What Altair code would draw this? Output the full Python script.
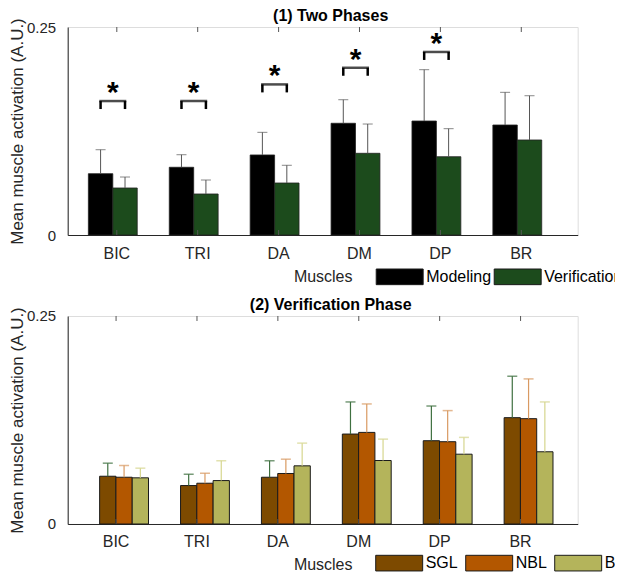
import altair as alt
import pandas as pd

# ---------------- data ----------------
muscles = ["BIC", "TRI", "DA", "DM", "DP", "BR"]

phases = ["Modeling", "Verification"]
modeling_mean = [0.0737, 0.0814, 0.0962, 0.1343, 0.1370, 0.1322]
modeling_sd = [0.0288, 0.0151, 0.0272, 0.0283, 0.0617, 0.0393]
verification_mean = [0.0565, 0.0493, 0.0625, 0.0982, 0.0941, 0.1142]
verification_sd = [0.0132, 0.0168, 0.0213, 0.0352, 0.0337, 0.0532]

sig_muscles = ["BIC", "TRI", "DA", "DM", "DP"]
bracket_level = [0.161, 0.161, 0.181, 0.201, 0.220]
bracket_leg = 0.0096

conditions = ["SGL", "NBL", "BL"]
sgl_mean = [0.0574, 0.0462, 0.0562, 0.1081, 0.1001, 0.1278]
sgl_sd = [0.0157, 0.0136, 0.0198, 0.0386, 0.0417, 0.0498]
nbl_mean = [0.0562, 0.0490, 0.0607, 0.1101, 0.0989, 0.1266]
nbl_sd = [0.0141, 0.0120, 0.0172, 0.0342, 0.0374, 0.0478]
bl_mean = [0.0555, 0.0522, 0.0699, 0.0763, 0.0839, 0.0868]
bl_sd = [0.0116, 0.0238, 0.0273, 0.0257, 0.0202, 0.0599]

# ---------------- styles ----------------
FONT = "Liberation Sans"
W, H = 510, 208
phase_colors = ["#000000", "#1c4b1c"]
cond_colors = ["#7d4a00", "#b35700", "#b4b45b"]
cond_err_colors = ["#3f7040", "#d99a62", "#d6d68e"]
TXT = "#262626"

# ---------------- tables ----------------
top_rows = []
for i, m in enumerate(muscles):
    top_rows.append(dict(muscle=m, series="Modeling", mean=modeling_mean[i],
                         upper=modeling_mean[i] + modeling_sd[i]))
    top_rows.append(dict(muscle=m, series="Verification", mean=verification_mean[i],
                         upper=verification_mean[i] + verification_sd[i]))
top_df = pd.DataFrame(top_rows)

br_rows = []
for m, b in zip(sig_muscles, bracket_level):
    for s in phases:
        br_rows.append(dict(muscle=m, series=s, level=b, low=b - bracket_leg, star="*"))
br_df = pd.DataFrame(br_rows)
br_center = br_df.drop_duplicates("muscle")

bot_rows = []
for means, sds, c in [(sgl_mean, sgl_sd, "SGL"), (nbl_mean, nbl_sd, "NBL"), (bl_mean, bl_sd, "BL")]:
    for i, m in enumerate(muscles):
        bot_rows.append(dict(muscle=m, series=c, mean=means[i], upper=means[i] + sds[i]))
bot_df = pd.DataFrame(bot_rows)

tick_df = pd.DataFrame({"muscle": muscles})


def x_enc(align, label_offset):
    return alt.X(
        "muscle:N", sort=muscles,
        scale=alt.Scale(domain=muscles, paddingInner=0.396, paddingOuter=0.35, align=align),
        axis=alt.Axis(title="Muscles", labelAngle=0, ticks=False, tickSize=0,
                      labelPadding=10, titlePadding=7, labelOffset=label_offset,
                      domainColor=TXT, labelColor=TXT, titleColor=TXT,
                      labelFontSize=16, titleFontSize=16, titleFontWeight="normal"),
    )


def y_enc(field="mean"):
    return alt.Y(
        f"{field}:Q",
        scale=alt.Scale(domain=[0, 0.25], nice=False, zero=True),
        axis=alt.Axis(title="Mean muscle activation (A.U.)", values=[0, 0.25], format="~g",
                      ticks=False, tickSize=0, labelPadding=12, titlePadding=0, grid=False,
                      domainColor=TXT, labelColor=TXT, titleColor=TXT,
                      labelFontSize=15, titleFontSize=17, titleFontWeight="normal"),
    )


def legend(lx, ly, colpad):
    return alt.Legend(title=None, orient="none", legendX=lx, legendY=ly, direction="horizontal",
                      symbolType="M-3,-1H3V1H-3Z", symbolSize=245,
                      symbolStrokeColor="#1a1a1a", symbolStrokeWidth=1, symbolOffset=15,
                      symbolOpacity=1, labelOffset=18, labelFontSize=16, labelColor="#000",
                      columnPadding=colpad, padding=0)


def inner_ticks(x, offset):
    t1 = alt.Chart(tick_df).mark_rule(color="#555555", strokeWidth=1, xOffset=offset).encode(
        x=x, y=alt.value(H), y2=alt.value(H - 5))
    t2 = alt.Chart(tick_df).mark_rule(color="#555555", strokeWidth=1, xOffset=offset).encode(
        x=x, y=alt.value(0), y2=alt.value(5))
    return [t1, t2]


def title(text):
    return alt.TitleParams(text, fontSize=16, fontWeight="bold", font=FONT,
                           anchor="middle", frame="group", offset=-6, dx=8, color="#000")


# ---------------- panel 1 ----------------
x1 = x_enc(0.365, 4)
xo1 = alt.XOffset("series:N", sort=phases, scale=alt.Scale(domain=phases))

bars1 = alt.Chart(top_df).mark_bar(stroke="#222222", strokeWidth=0.8).encode(
    x=x1, xOffset=xo1, y=y_enc(),
    color=alt.Color("series:N", sort=phases,
                    scale=alt.Scale(domain=phases, range=phase_colors),
                    legend=legend(308.5, 241, 1)),
)
err1 = alt.Chart(top_df).mark_rule(color="#555555", strokeWidth=1).encode(
    x=x1, xOffset=xo1, y="mean:Q", y2="upper:Q")
cap1 = alt.Chart(top_df).mark_tick(color="#555555", size=10, thickness=1).encode(
    x=x1, xOffset=xo1, y="upper:Q")
legs = alt.Chart(br_df).mark_rule(color="#000000", strokeWidth=2.5).encode(
    x=x1, xOffset=xo1, y="level:Q", y2="low:Q")
hbar = alt.Chart(br_center).mark_tick(color="#000000", size=27, thickness=2.5).encode(
    x=x1, y="level:Q")
stars = alt.Chart(br_center).mark_text(fontSize=30, fontWeight="bold", font=FONT, color="#000",
                                       baseline="alphabetic", dy=1).encode(
    x=x1, y="level:Q", text="star:N")

panel1 = alt.layer(bars1, err1, cap1, legs, hbar, stars, *inner_ticks(x1, 4)).properties(
    width=W, height=H, title=title("(1) Two Phases"))

# ---------------- panel 2 ----------------
x2 = x_enc(0.564, -8)
xo2 = alt.XOffset("series:N", sort=conditions, scale=alt.Scale(domain=conditions))

bars2 = alt.Chart(bot_df).mark_bar(stroke="#1a1a1a", strokeWidth=1).encode(
    x=x2, xOffset=xo2, y=y_enc(),
    color=alt.Color("series:N", sort=conditions,
                    scale=alt.Scale(domain=conditions, range=cond_colors),
                    legend=legend(308, 238.3, 5)),
)
layers2 = [bars2]
for c, col in zip(conditions, cond_err_colors):
    sub = alt.Chart(bot_df).transform_filter(alt.datum.series == c)
    layers2.append(sub.mark_rule(color=col, strokeWidth=1.2).encode(
        x=x2, xOffset=xo2, y="mean:Q", y2="upper:Q"))
    layers2.append(sub.mark_tick(color=col, size=10, thickness=1.5).encode(
        x=x2, xOffset=xo2, y="upper:Q"))

panel2 = alt.layer(*layers2, *inner_ticks(x2, -8)).properties(
    width=W, height=H, title=title("(2) Verification Phase"))

chart = alt.vconcat(panel1, panel2, spacing=81, bounds="flush").resolve_scale(
    color="independent", x="independent", xOffset="independent"
).properties(
    padding={"left": -0.3, "top": -1, "right": -11, "bottom": 2}
).configure_view(
    stroke="#6b6b6b", strokeWidth=1
).configure_axis(
    labelFont=FONT, titleFont=FONT
).configure_legend(
    labelFont=FONT
).configure(background="white")

chart.save("out.html", embed_options={"renderer": "svg", "actions": False})
